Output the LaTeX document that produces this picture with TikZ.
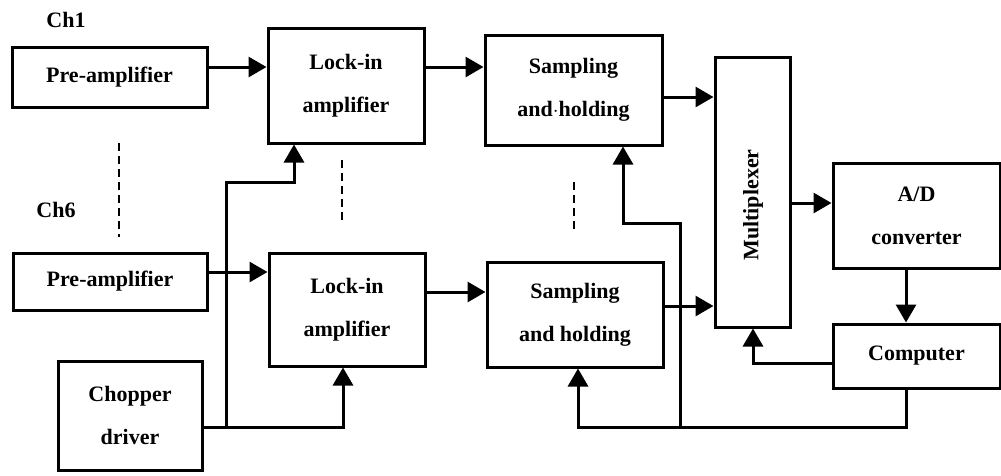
\documentclass[tikz,border=0pt]{standalone}
\usepackage{fontspec}
\setmainfont{Liberation Serif}
\usetikzlibrary{arrows.meta}
\begin{document}
\begin{tikzpicture}[x=1pt,y=-1pt,
  box/.style={draw, line width=3pt, inner sep=0pt, align=center, font=\fontsize{22}{43}\selectfont\bfseries},
  lbl/.style={font=\fontsize{22}{26}\selectfont\bfseries, inner sep=0pt},
  arr/.style={line width=3pt, -{Triangle[length=18pt,width=20pt]}},
  wire/.style={line width=3pt},
  dots/.style={line width=2.5pt, dash pattern=on 8pt off 5pt}]
\useasboundingbox (0,0) rectangle (1001,475);
% boxes
\node[box, minimum width=195pt, minimum height=60pt] (pre1) at (109.5,77) {Pre-amplifier};
\node[box, minimum width=156pt, minimum height=115pt] (lock1) at (346,85.5) {Lock-in\\amplifier};
\node[box, minimum width=177pt, minimum height=110pt] (samp1) at (573.5,90) {Sampling\\and$\cdot$holding};
\node[box, minimum width=75pt, minimum height=270pt] (mux) at (752.5,192) {};
\node[lbl, rotate=90] (muxt) at (753,205) {Multiplexer};
\node[box, minimum width=167pt, minimum height=105pt] (ad) at (916.5,215.5) {A/D\\converter};
\node[box, minimum width=167pt, minimum height=64pt] (comp) at (916.5,356) {Computer};
\node[box, minimum width=176pt, minimum height=105pt] (samp2) at (575,314.5) {Sampling\\and holding};
\node[box, minimum width=156pt, minimum height=113pt] (lock2) at (347,309.5) {Lock-in\\amplifier};
\node[box, minimum width=194pt, minimum height=57pt] (pre2) at (110,281.5) {Pre-amplifier};
\node[box, minimum width=144pt, minimum height=109pt] (chop) at (130,415.5) {Chopper\\driver};
% labels
\node[lbl] (ch1) at (66,20) {Ch1};
\node[lbl] (ch6) at (56,210) {Ch6};
% connectors
\draw[arr] (pre1.east |- 0,67) -- (lock1.west |- 0,67);
\draw[arr] (lock1.east |- 0,67) -- (samp1.west |- 0,67);
\draw[arr] (samp1.east |- 0,97) -- (mux.west |- 0,97);
\draw[arr] (pre2.east |- 0,272) -- (lock2.west |- 0,272);
\draw[arr] (lock2.east |- 0,292) -- (samp2.west |- 0,292);
\draw[arr] (samp2.east |- 0,306) -- (mux.west |- 0,306);
\draw[arr] (mux.east |- 0,203) -- (ad.west |- 0,203);
\draw[arr] (ad.south -| 906,0) -- (comp.north -| 906,0);
\draw[arr] (comp.west |- 0,363) -| (mux.south -| 753,0);
\coordinate (b) at (680,427);
\coordinate (c) at (226,427);
\draw[arr] (comp.south -| 906,0) -- (906,427) -| (samp2.south -| 578,0);
\draw[arr] (b) -- (680,223) -| (samp1.south -| 623,0);
\draw[arr] (chop.east |- 0,427) -| (lock2.south -| 343,0);
\draw[arr] (c) -- (226,182) -| (lock1.south -| 294,0);
% dashed channel ellipsis
\draw[dots] (119,143) -- (119,237);
\draw[dots] (342,160) -- (342,222);
\draw[dots] (574,182) -- (574,232);
\end{tikzpicture}
\end{document}
